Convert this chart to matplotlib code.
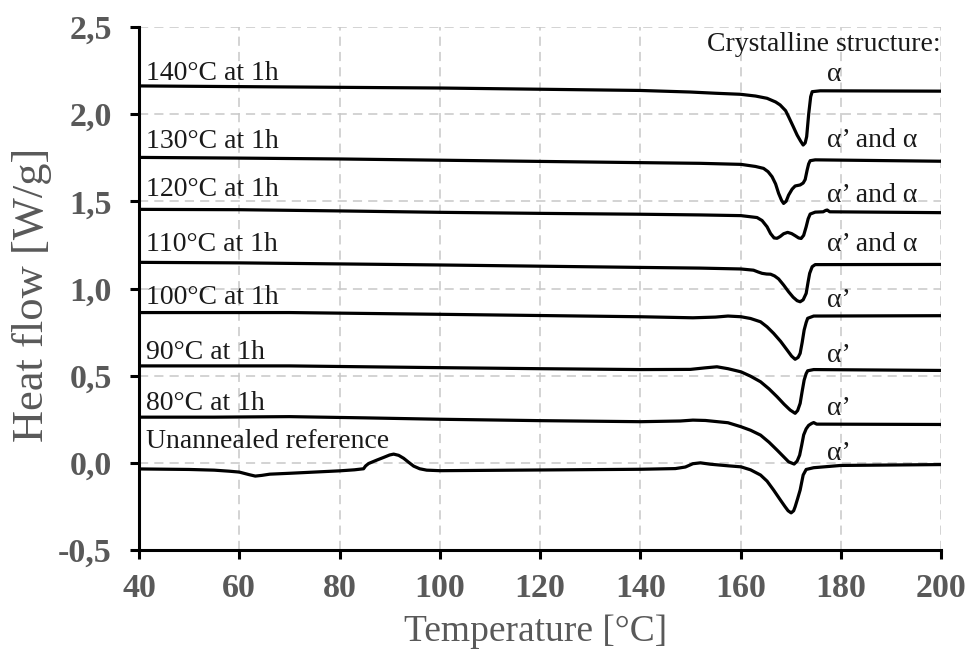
import matplotlib
matplotlib.use("Agg")
import matplotlib.pyplot as plt

# DSC heating scans (temperature in degC, heat flow in W/g)
t_140 = [40, 60, 80, 100, 120, 140, 150, 155, 160, 163, 165.3, 167, 167.9, 169, 169.6, 170.5,
         171.3, 172, 172.5, 172.9, 173.2, 173.6, 174.0, 174.3, 175.9, 200]
h_140 = [2.162, 2.158, 2.154, 2.150, 2.143, 2.136, 2.127, 2.120, 2.114, 2.104, 2.091, 2.070, 2.053,
         2.020, 1.985, 1.930, 1.880, 1.845, 1.823, 1.835, 1.871, 2.000, 2.100, 2.129, 2.134, 2.132]

t_130 = [40, 60, 80, 100, 120, 140, 152, 160.1, 163, 164.6, 165.5, 166.3, 167, 167.6, 168.2, 168.6,
         169.1, 169.6, 170.3, 170.9, 171.9, 172.5, 172.9, 173.3, 173.6, 173.9, 174.9, 200]
h_130 = [1.752, 1.748, 1.743, 1.736, 1.729, 1.722, 1.718, 1.712, 1.700, 1.689, 1.670, 1.641, 1.600,
         1.546, 1.505, 1.488, 1.500, 1.536, 1.570, 1.588, 1.594, 1.605, 1.625, 1.680, 1.715, 1.733,
         1.738, 1.730]

t_120 = [40, 60, 80, 100, 120, 140, 152, 160.1, 163.3, 164.3, 165.3, 166, 166.7, 167.3, 167.9, 168.6,
         169.4, 170.2, 170.9, 171.6, 172.1, 172.6, 173.1, 173.5, 173.9, 174.9, 176.5, 177, 177.3,
         177.8, 200]
h_120 = [1.454, 1.452, 1.445, 1.437, 1.431, 1.426, 1.422, 1.418, 1.407, 1.390, 1.354, 1.315, 1.290,
         1.288, 1.298, 1.314, 1.322, 1.315, 1.303, 1.290, 1.287, 1.305, 1.354, 1.400, 1.427, 1.438,
         1.440, 1.448, 1.450, 1.440, 1.435]

t_110 = [40, 60, 80, 100, 120, 140, 152, 160.1, 162.6, 163.5, 164.3, 165.2, 166, 166.8, 167.6, 168.6,
         169.6, 170.5, 171.3, 171.9, 172.5, 173.1, 173.5, 173.8, 174.3, 174.9, 200]
h_110 = [1.150, 1.147, 1.141, 1.135, 1.128, 1.121, 1.117, 1.112, 1.105, 1.095, 1.087, 1.083, 1.082,
         1.072, 1.055, 1.020, 0.981, 0.950, 0.930, 0.924, 0.935, 0.972, 1.040, 1.087, 1.125, 1.137,
         1.138]

t_100 = [40, 70, 100, 120, 140, 150.5, 155, 157.5, 160.1, 162, 164, 165.3, 166.6, 168, 169.3, 170.2,
         170.9, 171.5, 171.9, 172.3, 172.7, 173.1, 173.4, 174.6, 200]
h_100 = [0.862, 0.862, 0.852, 0.845, 0.838, 0.832, 0.836, 0.842, 0.838, 0.828, 0.809, 0.780, 0.743,
         0.697, 0.647, 0.612, 0.594, 0.605, 0.628, 0.690, 0.762, 0.805, 0.829, 0.842, 0.844]

t_90 = [40, 70, 100, 120, 140, 150, 153, 155.3, 157.5, 160.1, 162, 164, 165.7, 167.3, 168.7, 169.9,
        170.9, 171.4, 171.9, 172.3, 172.7, 173.1, 173.4, 174.6, 200]
h_90 = [0.556, 0.556, 0.546, 0.540, 0.535, 0.536, 0.545, 0.551, 0.540, 0.522, 0.497, 0.465, 0.424,
        0.379, 0.336, 0.303, 0.284, 0.300, 0.341, 0.410, 0.475, 0.512, 0.528, 0.535, 0.530]

t_80 = [40, 55, 70, 85, 100, 120, 140, 148, 150.5, 153, 157.5, 160.1, 162, 164, 165.7, 167.3, 168.5,
        169.6, 170.7, 171.3, 171.8, 172.2, 172.6, 173.1, 173.6, 174.2, 174.6, 175.2, 200]
h_80 = [0.262, 0.262, 0.265, 0.258, 0.250, 0.242, 0.236, 0.240, 0.245, 0.243, 0.230, 0.207, 0.187,
        0.159, 0.118, 0.073, 0.038, 0.006, -0.007, 0.010, 0.044, 0.100, 0.160, 0.195, 0.215, 0.226,
        0.231, 0.222, 0.220]

t_ref = [40, 50, 55, 58, 60, 62, 63.2, 64.5, 66.1, 70, 75, 80, 83, 84.8, 85.2, 85.8, 87.3, 88.8, 90,
         90.8, 91.8, 92.8, 93.8, 94.8, 96, 97.4, 100, 120, 140, 147, 149, 150.5, 152, 154, 157.5,
         160.1, 162, 164, 165.3, 166.6, 168, 168.9, 169.5, 170.1, 170.6, 170.9, 171.4, 171.9, 172.5,
         173.1, 174.6, 180, 200]
h_ref = [-0.035, -0.038, -0.042, -0.048, -0.053, -0.068, -0.076, -0.072, -0.065, -0.060, -0.053,
         -0.046, -0.040, -0.034, -0.018, -0.004, 0.014, 0.031, 0.045, 0.050, 0.043, 0.026, 0.003,
         -0.019, -0.034, -0.042, -0.045, -0.041, -0.037, -0.033, -0.024, -0.005, 0.000, -0.008,
         -0.017, -0.023, -0.040, -0.070, -0.105, -0.156, -0.215, -0.252, -0.275, -0.287, -0.275,
         -0.252, -0.205, -0.156, -0.070, -0.038, -0.028, -0.015, -0.010]

curves = [(t_140, h_140), (t_130, h_130), (t_120, h_120), (t_110, h_110),
          (t_100, h_100), (t_90, h_90), (t_80, h_80), (t_ref, h_ref)]
curve_names = ["140°C at 1h", "130°C at 1h", "120°C at 1h", "110°C at 1h",
               "100°C at 1h", "90°C at 1h", "80°C at 1h", "Unannealed reference"]
name_y = [2.232, 1.846, 1.566, 1.251, 0.951, 0.632, 0.339, 0.121]
phases = ["α", "α’ and α", "α’ and α", "α’ and α", "α’", "α’", "α’", "α’"]
phase_y = [2.225, 1.85, 1.536, 1.255, 0.934, 0.618, 0.312, 0.054]

x_ticks = [40, 60, 80, 100, 120, 140, 160, 180, 200]
y_ticks = [-0.5, 0.0, 0.5, 1.0, 1.5, 2.0, 2.5]
y_tick_labels = ["-0,5", "0,0", "0,5", "1,0", "1,5", "2,0", "2,5"]

plt.rcParams["font.family"] = ["Liberation Serif", "DejaVu Serif"]
grey = "#595959"
ink = "#1a1a1a"

fig = plt.figure(figsize=(9.71, 6.52), dpi=100)
ax = fig.add_axes([139 / 971, 1 - 550 / 652, 802 / 971, 523 / 652])

for t, h in curves:
    ax.plot(t, h, color="black", lw=2.3, solid_capstyle="butt", zorder=3)

for name, y in zip(curve_names, name_y):
    ax.text(41.3, y, name, fontsize=20, va="center", ha="left", color=ink)
for ph, y in zip(phases, phase_y):
    ax.text(177.3, y, ph, fontsize=20, va="center", ha="left", color=ink)
ax.text(200, 2.397, "Crystalline structure:", fontsize=20, va="center", ha="right", color=ink)

ax.set_xlim(40, 200)
ax.set_ylim(-0.5, 2.5)
ax.set_xticks(x_ticks)
ax.set_yticks(y_ticks)
ax.set_yticklabels(y_tick_labels)

ax.grid(True, color="#c8c8c8", ls=(0, (6, 4)), lw=1.1, zorder=0)
ax.set_axisbelow(True)
for side in ["top", "right"]:
    ax.spines[side].set_visible(False)
for side in ["left", "bottom"]:
    ax.spines[side].set_linewidth(2.2)
ax.tick_params(direction="out", length=6.5, width=2.2, labelsize=24.5, labelcolor=grey)
ax.tick_params(axis="x", pad=10)
ax.tick_params(axis="y", pad=13)
for lbl in ax.get_xticklabels() + ax.get_yticklabels():
    lbl.set_fontweight("bold")

ax.set_xlabel("Temperature [°C]", fontsize=27, color=grey, va="center")
ax.set_ylabel("Heat flow [W/g]", fontsize=32, color=grey, va="center")
ax.xaxis.set_label_coords(0.495, -0.157)
ax.yaxis.set_label_coords(-0.134, 0.488)

fig.savefig("out.png", dpi=100)
